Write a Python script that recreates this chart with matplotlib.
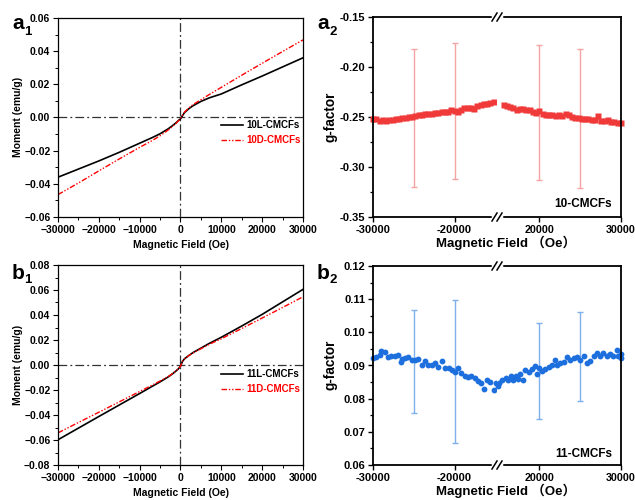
import matplotlib.pyplot as plt
from matplotlib.lines import Line2D
from matplotlib.ticker import MultipleLocator

plt.rcParams['font.family'] = ['Liberation Sans', 'Noto Sans CJK SC']
plt.rcParams['font.weight'] = 'bold'

# ---- M-H curves (left panels) ----
field = [-30000, -25000, -20000, -15000, -10000, -7000, -5000, -3000, -2000, -1000, -500, 0,
         500, 1000, 2000, 3000, 5000, 7000, 10000, 15000, 20000, 25000, 30000]
m_10L = [-0.0360, -0.0311, -0.0262, -0.0210, -0.0155, -0.0122, -0.0098, -0.0068, -0.0050, -0.0030, -0.0018, -0.0008,
         0.0012, 0.0030, 0.0052, 0.0070, 0.0097, 0.0118, 0.0142, 0.0197, 0.0250, 0.0305, 0.0360]
m_10D = [-0.0465, -0.0395, -0.0322, -0.0250, -0.0180, -0.0140, -0.0110, -0.0075, -0.0055, -0.0033, -0.0020, -0.0008,
         0.0014, 0.0033, 0.0057, 0.0077, 0.0107, 0.0138, 0.0182, 0.0255, 0.0327, 0.0398, 0.0468]
m_11L = [-0.0598, -0.0505, -0.0412, -0.0320, -0.0228, -0.0172, -0.0135, -0.0095, -0.0072, -0.0045, -0.0030, -0.0010,
         0.0030, 0.0050, 0.0075, 0.0098, 0.0135, 0.0172, 0.0222, 0.0312, 0.0405, 0.0505, 0.0605]
m_11D = [-0.0543, -0.0460, -0.0378, -0.0295, -0.0212, -0.0162, -0.0128, -0.0092, -0.0070, -0.0044, -0.0030, -0.0010,
         0.0030, 0.0050, 0.0074, 0.0096, 0.0130, 0.0165, 0.0210, 0.0292, 0.0376, 0.0460, 0.0546]

# ---- g-factor (right panels, broken x axis) ----
h10_left = [-30000, -29600, -29200, -28800, -28400, -28000, -27600, -27200, -26800, -26400, -26000, -25600, -25200,
            -24800, -24400, -24000, -23600, -23200, -22800, -22400, -22000, -21600, -21200, -20800, -20400, -20000,
            -19600, -19200, -18800, -18400, -18000, -17600, -17200, -16800, -16400, -16000, -15600, -15200]
g10_left = [-0.2517, -0.2517, -0.2540, -0.2533, -0.2540, -0.2533, -0.2533, -0.2520, -0.2517, -0.2507, -0.2507, -0.2500,
            -0.2497, -0.2493, -0.2483, -0.2477, -0.2473, -0.2467, -0.2470, -0.2460, -0.2460, -0.2453, -0.2453, -0.2450,
            -0.2433, -0.2443, -0.2453, -0.2433, -0.2407, -0.2407, -0.2413, -0.2417, -0.2393, -0.2383, -0.2373, -0.2373,
            -0.2360, -0.2350]
h10_right = [15600, 16000, 16400, 16800, 17200, 17600, 18000, 18400, 18800, 19200, 19600, 20000, 20400, 20800, 21200,
             21600, 22000, 22400, 22800, 23200, 23600, 24000, 24400, 24800, 25200, 25600, 26000, 26400, 26800, 27200,
             27600, 28000, 28400, 28800, 29200, 29600, 30000]
g10_right = [-0.2383, -0.2393, -0.2400, -0.2407, -0.2433, -0.2417, -0.2420, -0.2433, -0.2427, -0.2450, -0.2460, -0.2440,
             -0.2467, -0.2483, -0.2483, -0.2483, -0.2493, -0.2483, -0.2493, -0.2473, -0.2483, -0.2500, -0.2507, -0.2507,
             -0.2517, -0.2517, -0.2517, -0.2533, -0.2527, -0.2493, -0.2540, -0.2540, -0.2527, -0.2550, -0.2550, -0.2560,
             -0.2560]
eb10_h = [-25000, -20000, 20000, 25000]
eb10_g = [-0.2510, -0.2440, -0.2455, -0.2515]
eb10_err = [0.0690, 0.0680, 0.0675, 0.0695]

h11_left = [-30000, -29590, -29180, -28970, -28560, -28150, -27740, -27330, -26910, -26580, -26420, -26090, -25680,
            -25270, -24860, -24440, -24030, -23620, -23210, -22800, -22390, -21980, -21560, -21150, -20740, -20330,
            -20000, -19590, -19180, -18770, -18350, -17940, -17530, -17120, -16710, -16420, -16010, -15600, -15190,
            -14980]
g11_left = [0.0923, 0.0926, 0.0933, 0.0943, 0.0940, 0.0926, 0.0928, 0.0930, 0.0933, 0.0910, 0.0920, 0.0923, 0.0926,
            0.0918, 0.0918, 0.0920, 0.0903, 0.0913, 0.0900, 0.0903, 0.0908, 0.0896, 0.0913, 0.0892, 0.0892, 0.0887,
            0.0879, 0.0892, 0.0877, 0.0869, 0.0865, 0.0869, 0.0862, 0.0852, 0.0847, 0.0829, 0.0855, 0.0849, 0.0825,
            0.0847]
h11_right = [14900, 15040, 15450, 15850, 16180, 16460, 16750, 17070, 17400, 17680, 17970, 18290, 18700, 19110, 19430,
             19720, 20000, 20330, 20730, 21140, 21550, 21870, 22150, 22560, 22970, 23370, 23780, 24190, 24590, 25000,
             25410, 25820, 26220, 26630, 27030, 27440, 27850, 28250, 28660, 29070, 29470, 29670, 30000, 30000]
g11_right = [0.0837, 0.0847, 0.0855, 0.0862, 0.0857, 0.0867, 0.0855, 0.0869, 0.0858, 0.0875, 0.0855, 0.0885, 0.0879,
             0.0889, 0.0898, 0.0875, 0.0892, 0.0882, 0.0889, 0.0896, 0.0903, 0.0918, 0.0900, 0.0908, 0.0910, 0.0926,
             0.0918, 0.0923, 0.0926, 0.0918, 0.0930, 0.0908, 0.0913, 0.0928, 0.0938, 0.0930, 0.0938, 0.0928, 0.0936,
             0.0930, 0.0946, 0.0930, 0.0936, 0.0923]
eb11_h = [-25000, -20000, 20000, 25000]
eb11_g = [0.0912, 0.0881, 0.0883, 0.0926]
eb11_err = [0.0155, 0.0216, 0.0144, 0.0134]

W, H = 635, 500
fig = plt.figure(figsize=(W / 100, H / 100), dpi=100)


def axes_px(l, t, r, b):
    return fig.add_axes([l / W, 1 - b / H, (r - l) / W, (b - t) / H])


def mh_panel(ax, m_l, m_d, lab_l, lab_d, lim, leg_y):
    ax.axhline(0, color='#333333', lw=0.9, ls=(0, (7, 2.5, 1.5, 2.5)))
    ax.axvline(0, color='#333333', lw=0.9, ls=(0, (7, 2.5, 1.5, 2.5)))
    ax.plot(field, m_l, color='black', lw=1.2, label=lab_l)
    ax.plot(field, m_d, color='red', lw=1.0, dashes=(4, 1.3, 1, 1.3, 1, 1.3), label=lab_d)
    ax.set_xlim(-30000, 30000)
    ax.set_ylim(-lim, lim)
    ax.xaxis.set_major_locator(MultipleLocator(10000))
    ax.xaxis.set_minor_locator(MultipleLocator(5000))
    ax.yaxis.set_major_locator(MultipleLocator(0.02))
    ax.yaxis.set_minor_locator(MultipleLocator(0.01))
    ax.tick_params(which='major', direction='out', length=3.5, width=0.8, labelsize=7.5, pad=2)
    ax.tick_params(which='minor', direction='out', length=2, width=0.7)
    for s in ax.spines.values():
        s.set_linewidth(0.9)
    ax.legend(loc='upper left', bbox_to_anchor=(0.665, leg_y), frameon=False, fontsize=7,
              handlelength=2.3, handletextpad=0.3, labelspacing=0.5, borderpad=0, borderaxespad=0,
              labelcolor='linecolor')


def g_panel(axl, axr, hl, gl, hr, gr, col, mk, ms, ecol, eh, eg, ee, ylim, ystep, yfmt):
    for ax in (axl, axr):
        ax.errorbar(eh, eg, yerr=ee, fmt='none', ecolor=ecol, elinewidth=1.0, capsize=2.2, capthick=1.0)
        ax.set_ylim(*ylim)
        for s in ax.spines.values():
            s.set_linewidth(1.3)
    axl.plot(hl, gl, mk, color=col, ms=ms, mec='none', clip_on=False)
    axr.plot(hr, gr, mk, color=col, ms=ms, mec='none', clip_on=False)
    axl.set_xlim(-30000, -14800)
    axr.set_xlim(14800, 30000)
    axl.spines['right'].set_visible(False)
    axr.spines['left'].set_visible(False)
    axl.set_xticks([-30000, -20000])
    axl.set_xticklabels(['-30000', '-20000'])
    axr.set_xticks([20000, 30000])
    axr.set_xticklabels(['20000', '30000'])
    yt = [ylim[0] + i * ystep for i in range(int(round((ylim[1] - ylim[0]) / ystep)) + 1)]
    axl.set_yticks(yt)
    axl.set_yticklabels([yfmt % v for v in yt])
    axl.set_yticks([v + ystep / 2 for v in yt[:-1]], minor=True)
    axl.tick_params(which='major', direction='out', length=3.5, width=1.0, labelsize=8, pad=2)
    axl.tick_params(which='minor', direction='out', length=2, width=0.9)
    axr.tick_params(axis='x', direction='out', length=3.5, width=1.0, labelsize=7.7, pad=2)
    axr.tick_params(axis='y', left=False, labelleft=False)


def break_marks(xp, yps):
    for yp in yps:
        fig.add_artist(Line2D([(xp - 4) / W, (xp + 4) / W], [1 - yp / H, 1 - yp / H],
                              color='white', lw=2.5))
        for dx in (-2.5, 2.5):
            fig.add_artist(Line2D([(xp + dx - 2.5) / W, (xp + dx + 2.5) / W],
                                  [1 - (yp + 4) / H, 1 - (yp - 4) / H], color='black', lw=1.1))


# left column
ax_a1 = axes_px(58, 18, 303, 217)
mh_panel(ax_a1, m_10L, m_10D, '10L-CMCFs', '10D-CMCFs', 0.06, 0.485)
ax_b1 = axes_px(58, 265, 303, 465)
mh_panel(ax_b1, m_11L, m_11D, '11L-CMCFs', '11D-CMCFs', 0.08, 0.478)

# right column
ax_a2l = axes_px(373, 17, 497, 217)
ax_a2r = axes_px(497, 17, 621, 217)
g_panel(ax_a2l, ax_a2r, h10_left, g10_left, h10_right, g10_right, '#f03a3a', 's', 3.8, '#f5a3a3',
        eb10_h, eb10_g, eb10_err, (-0.35, -0.15), 0.05, '%.2f')
ax_b2l = axes_px(373, 266, 497, 465)
ax_b2r = axes_px(497, 266, 621, 465)
g_panel(ax_b2l, ax_b2r, h11_left, g11_left, h11_right, g11_right, '#1c6fdc', 'o', 4.2, '#7fb0ec',
        eb11_h, eb11_g, eb11_err, (0.06, 0.12), 0.01, '%.2f')
break_marks(497, [17, 217, 266, 465])

# axis labels
for yc in (117, 365):
    fig.text(18 / W, 1 - yc / H, 'Moment (emu/g)', rotation=90, ha='center', va='center', fontsize=7.5)
    fig.text(331 / W, 1 - yc / H, 'g-factor', rotation=90, ha='center', va='center', fontsize=9.8)
for yc in (245, 493):
    fig.text(181 / W, 1 - yc / H, 'Magnetic Field (Oe)', ha='center', va='center', fontsize=7.5)
    fig.text(506 / W, 1 - (yc - 2) / H, 'Magnetic Field （Oe）', ha='center', va='center', fontsize=9.5)

fig.text(612 / W, 1 - 207 / H, '10-CMCFs', ha='right', va='baseline', fontsize=8.5)
fig.text(612 / W, 1 - 457 / H, '11-CMCFs', ha='right', va='baseline', fontsize=8.5)

# panel tags
for x0, base, sub_base, letter, sub in [(12, 29, 35, 'a', '1'), (317, 29, 35, 'a', '2'),
                                        (12, 279, 283, 'b', '1'), (317, 279, 283, 'b', '2')]:
    fig.text(x0 / W, 1 - base / H, letter, ha='left', va='baseline', fontsize=15)
    fig.text((x0 + 12) / W, 1 - sub_base / H, sub, ha='left', va='baseline', fontsize=9.5)

fig.savefig('out.png', dpi=100)
